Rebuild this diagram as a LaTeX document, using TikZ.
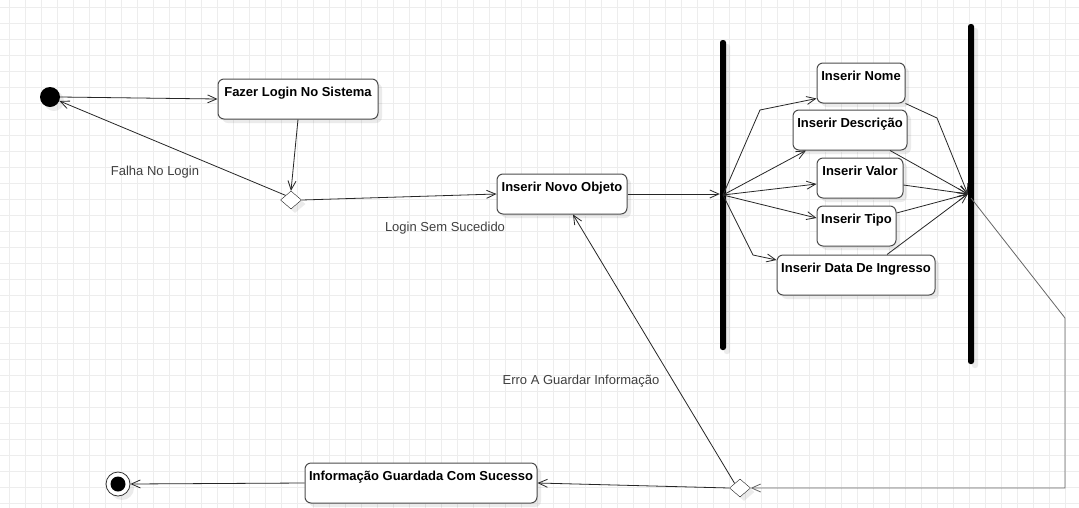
\documentclass[tikz,border=0pt]{standalone}
\usepackage{fontspec}
\setmainfont{Liberation Sans}
\usetikzlibrary{shapes.geometric, arrows.meta, positioning, calc, shadows}

\begin{document}
\begin{tikzpicture}[
  x=1pt, y=-1pt,
  font=\fontsize{13}{15}\selectfont,
  >={Straight Barb[length=9pt,width=8pt]},
  shadowed/.style={drop shadow={shadow xshift=4pt, shadow yshift=-4pt, fill=black, opacity=.08}},
  act/.style={rectangle, rounded corners=6pt, draw=black!70, line width=1pt, fill=white, align=center, minimum height=40pt, inner xsep=1pt, inner ysep=2pt, font=\fontsize{13}{15}\selectfont\bfseries, shadowed},
  bar/.style={rectangle, rounded corners=2.5pt, fill=black, minimum width=6pt, inner sep=0pt, shadowed},
  dec/.style={diamond, draw=black!85, fill=white, minimum width=21pt, minimum height=18pt, inner sep=0pt, shadowed},
  initnode/.style={circle, fill=black, minimum size=20pt, inner sep=0pt, shadowed},
  finalnode/.style={circle, draw=black!80, line width=0.8pt, fill=white, minimum size=24pt, inner sep=0pt, path picture={\fill[black] (path picture bounding box.center) circle (7.5pt);}, shadowed},
  a/.style={->, black!85, line width=0.8pt},
  lbl/.style={text=black!75},
  gridline/.style={black!7, line width=0.7pt},
]
\useasboundingbox[fill=white] (0,0) rectangle (1079,507);
\begin{scope}[shift={(9,7)}]
  \draw[gridline, step=16pt] (-9,507) grid (1079,-7);
\end{scope}
% nodes
\node[initnode] (init) at (50,97) {};
\node[act, minimum width=160pt] (login) at (298,99) {Fazer Login No Sistema\\~};
\node[dec] (chk) at (291,200) {};
\node[act, minimum width=130pt] (novo) at (562,194) {Inserir Novo Objeto\\~};
\node[bar, minimum height=310pt] (fork) at (723,195) {};
\node[act, minimum width=88pt] (nome) at (861,83) {Inserir Nome\\~};
\node[act, minimum width=114pt] (desc) at (850,130) {Inserir Descrição\\~};
\node[act, minimum width=86pt] (valor) at (860,178) {Inserir Valor\\~};
\node[act, minimum width=79pt] (tipo) at (856.5,226) {Inserir Tipo\\~};
\node[act, minimum width=158pt] (data) at (856,275) {Inserir Data De Ingresso\\~};
\node[bar, minimum height=340pt] (join) at (971,194) {};
\node[dec] (save) at (740,488) {};
\node[act, minimum width=232pt] (ok) at (421,483) {Informação Guardada Com Sucesso\\~};
\node[finalnode] (fim) at (118,484) {};
% labels
\node[lbl] (falha) at (155,172) {Falha No Login};
\node[lbl] (sucedido) at (445,228) {Login Sem Sucedido};
\node[lbl] (erro) at (581,381) {Erro A Guardar Informação};
% bends
\coordinate (kn) at (760,110);
\coordinate (kd) at (753,255);
\coordinate (jn) at (937,118);
\coordinate (rt) at (1065,318);
% arrows
\draw[a] (init.east) -- (login.west);
\draw[a] (login.south) -- (chk.north);
\draw[a] (chk.north west) -- (init);
\draw[a] (chk.east) -- (novo.west);
\draw[a] (novo.east) -- (novo.east -| fork.west);
% fork
\draw[a] (fork.center) -- (kn) -- ([yshift=5pt]nome.south west);
\draw[a] (fork.center) -- ([xshift=-44pt]desc.south);
\draw[a] (fork.center) -- ([yshift=-6pt]valor.west);
\draw[a] (fork.center) -- ([yshift=8pt]tipo.west);
\draw[a] (fork.center) -- (kd) -- ([yshift=15pt]data.west);
% join
\draw[a] (nome.south east) -- (jn) -- (join.west);
\draw[a] ([xshift=40pt]desc.south) -- (join.west);
\draw[a] ([yshift=-7pt]valor.east) -- (join.west);
\draw[a] ([yshift=13pt]tipo.east) -- (join.west);
\draw[a] ([xshift=31pt]data.north) -- (join.west);
% back to the decision
\draw[a, black!60] ([yshift=-4pt]join.center) -- (rt) |- (save.east);
\draw[a] (save.north west) -- ([xshift=11pt]novo.south);
\draw[a] (save.west) -- (ok.east);
\draw[a] (ok.west) -- (fim.east);
\end{tikzpicture}
\end{document}
